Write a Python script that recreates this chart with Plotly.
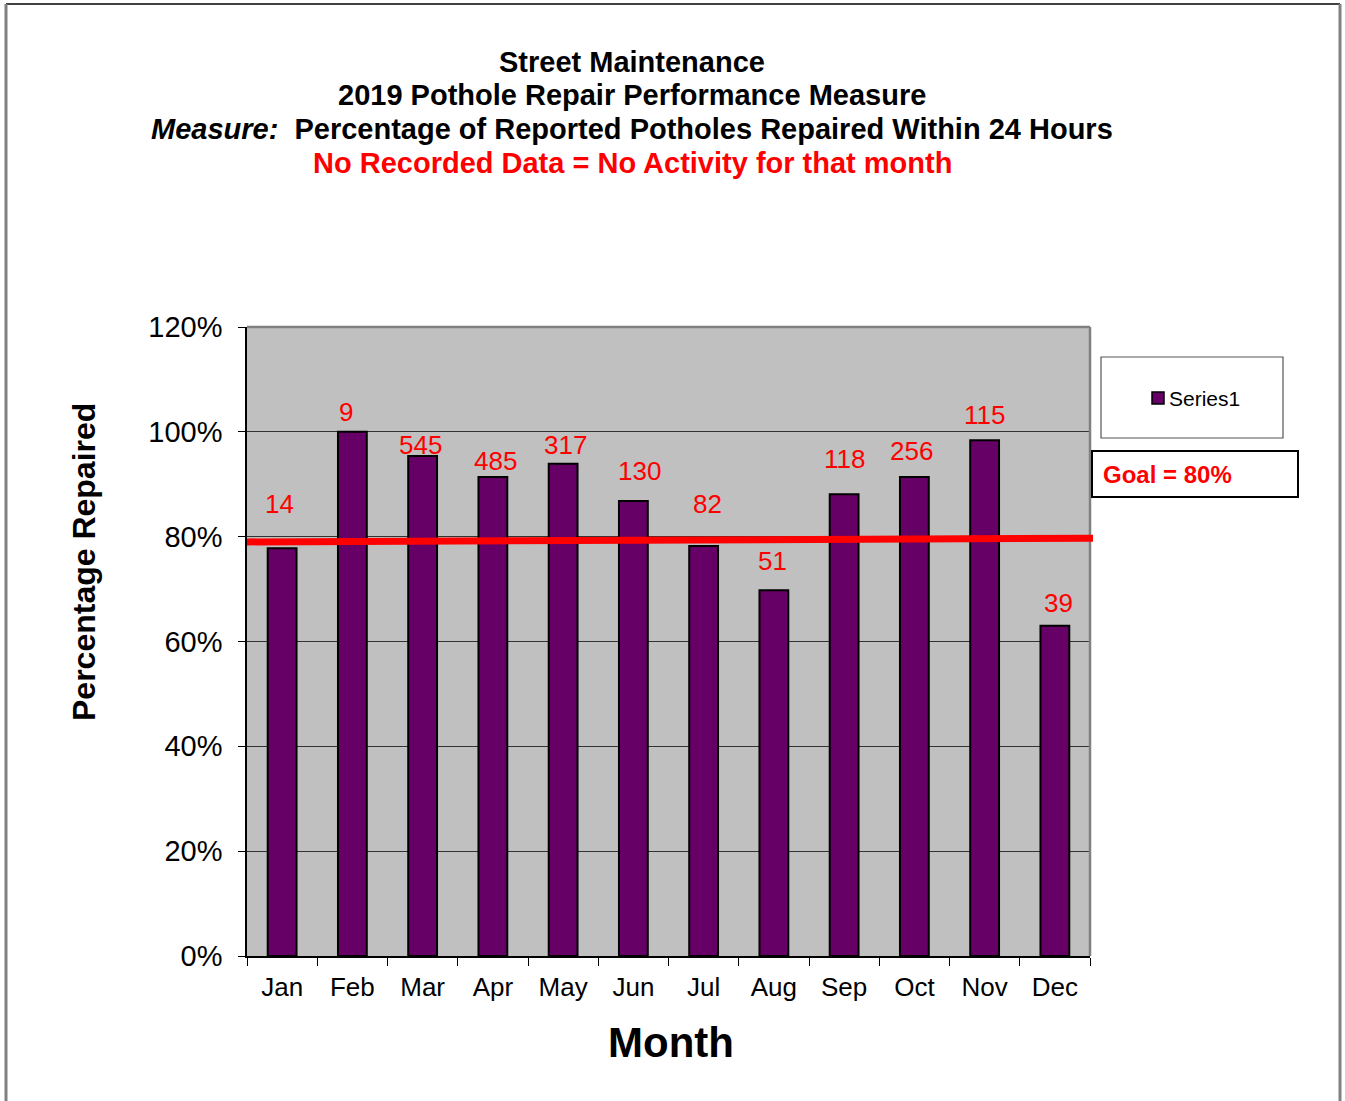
import plotly.graph_objects as go

# ---------------- data ----------------
months = ["Jan", "Feb", "Mar", "Apr", "May", "Jun", "Jul", "Aug", "Sep", "Oct", "Nov", "Dec"]
pct_repaired = [77.8, 100.0, 95.4, 91.4, 93.9, 86.8, 78.2, 69.8, 88.1, 91.4, 98.4, 63.0]
potholes_reported = [14, 9, 545, 485, 317, 130, 82, 51, 118, 256, 115, 39]
goal_line_start = 79.0   # drawn goal line height at left edge (%)
goal_line_end = 79.7     # drawn goal line height at right edge (%)
y_ticks = [0, 20, 40, 60, 80, 100, 120]

# ---------------- layout helpers ----------------
W, H = 1345, 1101
L, R, T, B = 247, 1090, 327, 956   # plot area in pixels


def px_x(x):
    return (x - L) / (R - L)


def px_y(y):
    return (B - y) / (B - T)


FONT = "Liberation Sans, Arial, sans-serif"
RED = "#FF0000"

# label offsets (pixels) relative to bar tops, as placed in the original
label_yshift = [44, 20, 11, 16, 19, 30, 42, 29, 35, 26, 25, 23]
label_xshift = [-3, -6, -2, 3, 2, 6, 4, -1, 0, -3, 0, 4]

fig = go.Figure()
fig.add_trace(go.Bar(
    x=months, y=pct_repaired, name="Series1",
    marker=dict(color="#660066", line=dict(color="black", width=2)),
    width=0.41, showlegend=False,
))

annotations = []
for m, v, n, dy, dx in zip(months, pct_repaired, potholes_reported, label_yshift, label_xshift):
    annotations.append(dict(x=m, y=v, xref="x", yref="y", text=str(n), showarrow=False,
                            yanchor="middle", xanchor="center", yshift=dy, xshift=dx,
                            font=dict(family=FONT, size=26, color=RED)))

# titles
title_lines = [
    ("<b>Street Maintenance</b>", 62, "black"),
    ("<b>2019 Pothole Repair Performance Measure</b>", 95, "black"),
    ("<b><i>Measure:</i>&nbsp; Percentage of Reported Potholes Repaired Within 24 Hours</b>", 129, "black"),
    ("<b>No Recorded Data = No Activity for that month</b>", 163, RED),
]
for txt, yy, col in title_lines:
    annotations.append(dict(x=px_x(632), y=px_y(yy), xref="paper", yref="paper", text=txt,
                            showarrow=False, xanchor="center", yanchor="middle",
                            font=dict(family=FONT, size=29, color=col)))

# axis titles
annotations.append(dict(x=px_x(84), y=px_y(562), xref="paper", yref="paper",
                        text="<b>Percentage Repaired</b>", textangle=-90, showarrow=False,
                        xanchor="center", yanchor="middle",
                        font=dict(family=FONT, size=32, color="black")))
annotations.append(dict(x=px_x(671), y=px_y(1042), xref="paper", yref="paper",
                        text="<b>Month</b>", showarrow=False, xanchor="center", yanchor="middle",
                        font=dict(family=FONT, size=42, color="black")))

# legend (drawn) and goal box
annotations.append(dict(x=px_x(1167), y=px_y(398), xref="paper", yref="paper", text="Series1",
                        showarrow=False, xanchor="left", yanchor="middle",
                        font=dict(family=FONT, size=21, color="black")))
annotations.append(dict(x=px_x(1101), y=px_y(474), xref="paper", yref="paper", text="<b>Goal = 80%</b>",
                        showarrow=False, xanchor="left", yanchor="middle",
                        font=dict(family=FONT, size=24, color=RED)))

shapes = [
    # plot frame top and right (gray)
    dict(type="line", xref="paper", yref="paper", x0=0, x1=1, y0=1, y1=1,
         line=dict(color="#808080", width=2.5)),
    dict(type="line", xref="paper", yref="paper", x0=1, x1=1, y0=0, y1=1,
         line=dict(color="#808080", width=2.5)),
    # goal line
    dict(type="line", xref="paper", yref="y", x0=0, x1=px_x(1093),
         y0=goal_line_start, y1=goal_line_end, line=dict(color=RED, width=7), layer="above"),
    # legend box
    dict(type="rect", xref="paper", yref="paper", x0=px_x(1101), x1=px_x(1283),
         y0=px_y(438), y1=px_y(357), line=dict(color="#555555", width=1.2), fillcolor="white"),
    dict(type="rect", xref="paper", yref="paper", x0=px_x(1152), x1=px_x(1164),
         y0=px_y(404), y1=px_y(392), line=dict(color="black", width=1.5), fillcolor="#660066"),
    # goal box
    dict(type="rect", xref="paper", yref="paper", x0=px_x(1092), x1=px_x(1298),
         y0=px_y(497), y1=px_y(451), line=dict(color="black", width=2), fillcolor="white"),
    # outer page frame
    dict(type="line", xref="paper", yref="paper", x0=px_x(6), x1=px_x(1340),
         y0=px_y(4), y1=px_y(4), line=dict(color="black", width=1.5)),
    dict(type="line", xref="paper", yref="paper", x0=px_x(6), x1=px_x(6),
         y0=px_y(4), y1=px_y(1110), line=dict(color="#808080", width=3)),
    dict(type="line", xref="paper", yref="paper", x0=px_x(1340), x1=px_x(1340),
         y0=px_y(4), y1=px_y(1110), line=dict(color="#808080", width=3)),
]

fig.update_layout(
    width=W, height=H,
    margin=dict(l=L, r=W - R, t=T, b=H - B, pad=0),
    paper_bgcolor="white", plot_bgcolor="#C0C0C0",
    font=dict(family=FONT, color="black"),
    showlegend=False,
    annotations=annotations,
    shapes=shapes,
    bargap=0.59,
)
fig.update_xaxes(
    type="category", showgrid=False, showline=True, linecolor="black", linewidth=1.5,
    ticks="outside", tickson="boundaries", ticklen=8, tickcolor="black", tickwidth=1,
    tickfont=dict(family=FONT, size=26, color="black"), ticklabelstandoff=7,
    fixedrange=True,
)
fig.update_yaxes(
    range=[0, 120], tickvals=y_ticks, ticktext=[f"{v}%" for v in y_ticks],
    showgrid=True, gridcolor="#333333", gridwidth=1,
    showline=True, linecolor="black", linewidth=1.5, zeroline=False,
    ticks="outside", ticklen=7, tickcolor="black", tickwidth=1,
    tickfont=dict(family=FONT, size=29, color="black"), ticklabelstandoff=10,
    fixedrange=True,
)

fig.write_html(
    "out.html",
    config={"displayModeBar": False},
    post_script="document.body.style.margin='0';document.body.style.overflow='hidden';",
)
